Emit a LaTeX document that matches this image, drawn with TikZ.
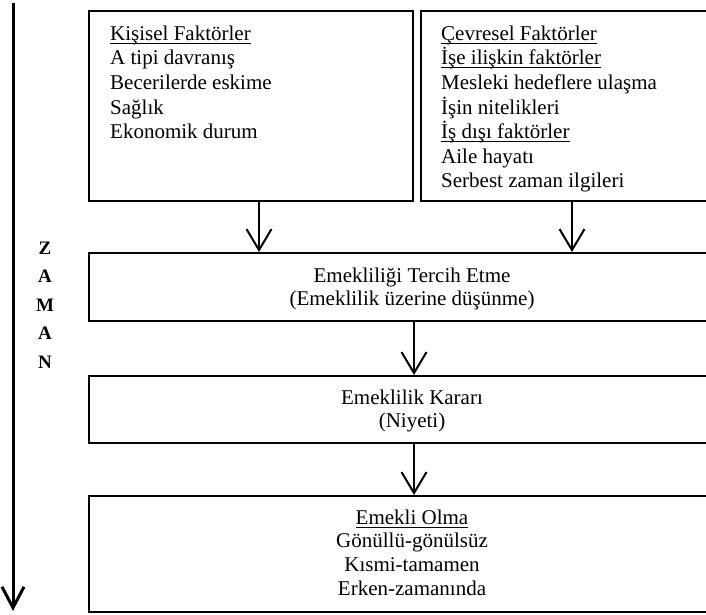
\documentclass[tikz,border=0pt]{standalone}
\usepackage{fontspec}
\setmainfont{Liberation Serif}
\usetikzlibrary{arrows.meta}
\newcommand\ulin[1]{\setbox0\hbox{#1}\rlap{\rule[-3.5pt]{\wd0}{1.1pt}}\box0}
\newcommand\topstrut{\rule{0pt}{16pt}}
\begin{document}
\begin{tikzpicture}[x=1pt,y=-1pt,
  boxnode/.style={draw, line width=2pt, rectangle, inner sep=0pt, anchor=north west},
  bodytext/.style={inner sep=0pt, font=\fontsize{21}{24.6}\selectfont},
  centertext/.style={inner sep=0pt, align=center, anchor=north, font=\fontsize{21}{23.6}\selectfont},
  flowarrow/.style={line width=2pt, -{Straight Barb[length=21pt,width=25pt]}},
  timearrow/.style={line width=3pt, -{Straight Barb[length=21pt,width=22pt]}},
  zamantext/.style={inner sep=0pt, align=center, font=\bfseries\fontsize{19}{28.6}\selectfont}]
\useasboundingbox (0,0) rectangle (706,614);
\clip (0,0) rectangle (706,614);
\fill[white] (0,0) rectangle (706,614);

% boxes
\node[boxnode, minimum width=324pt, minimum height=190pt] (b1) at (88,10) {};
\node[boxnode, minimum width=330pt, minimum height=190pt] (b2) at (420,10) {};
\node[boxnode, minimum width=652pt, minimum height=68pt] (b3) at (88,252) {};
\node[boxnode, minimum width=652pt, minimum height=67pt] (b4) at (88,375) {};
\node[boxnode, minimum width=652pt, minimum height=116pt] (b5) at (88,495) {};

% texts
\node[bodytext, align=left, anchor=north west] (t1) at (110,24)
  {\topstrut\ulin{Kişisel Faktörler}\\A tipi davranış\\Becerilerde eskime\\Sağlık\\Ekonomik durum};
\node[bodytext, align=left, anchor=north west] (t2) at (441,24)
  {\topstrut\ulin{Çevresel Faktörler}\\\ulin{İşe ilişkin faktörler}\\Mesleki hedeflere ulaşma\\İşin nitelikleri\\\ulin{İş dışı faktörler}\\Aile hayatı\\Serbest zaman ilgileri};
\node[centertext] (t3) at (412,266)
  {\topstrut Emekliliği Tercih Etme\\(Emeklilik üzerine düşünme)};
\node[centertext] (t4) at (412,388)
  {\topstrut Emeklilik Kararı\\(Niyeti)};
\node[centertext] (t5) at (412,508)
  {\topstrut\ulin{Emekli Olma}\\Gönüllü-gönülsüz\\Kısmi-tamamen\\Erken-zamanında};

% time axis
\coordinate (ttop) at (13,3);
\coordinate (tbot) at (13,611);
\draw[timearrow] (ttop) -- (tbot);
\node[zamantext] (zaman) at (45,305) {Z\\A\\M\\A\\N};

% connectors
\draw[flowarrow] ([xshift=8pt]b1.south) -- ([xshift=8pt]b1.south |- b3.north);
\draw[flowarrow] ([xshift=152pt]b2.south west) -- ([xshift=152pt]b2.south west |- b3.north);
\draw[flowarrow] ([xshift=-1pt]b3.south) -- ([xshift=-1pt]b4.north);
\draw[flowarrow] ([xshift=-1pt]b4.south) -- ([xshift=-1pt]b5.north);
\end{tikzpicture}
\end{document}
